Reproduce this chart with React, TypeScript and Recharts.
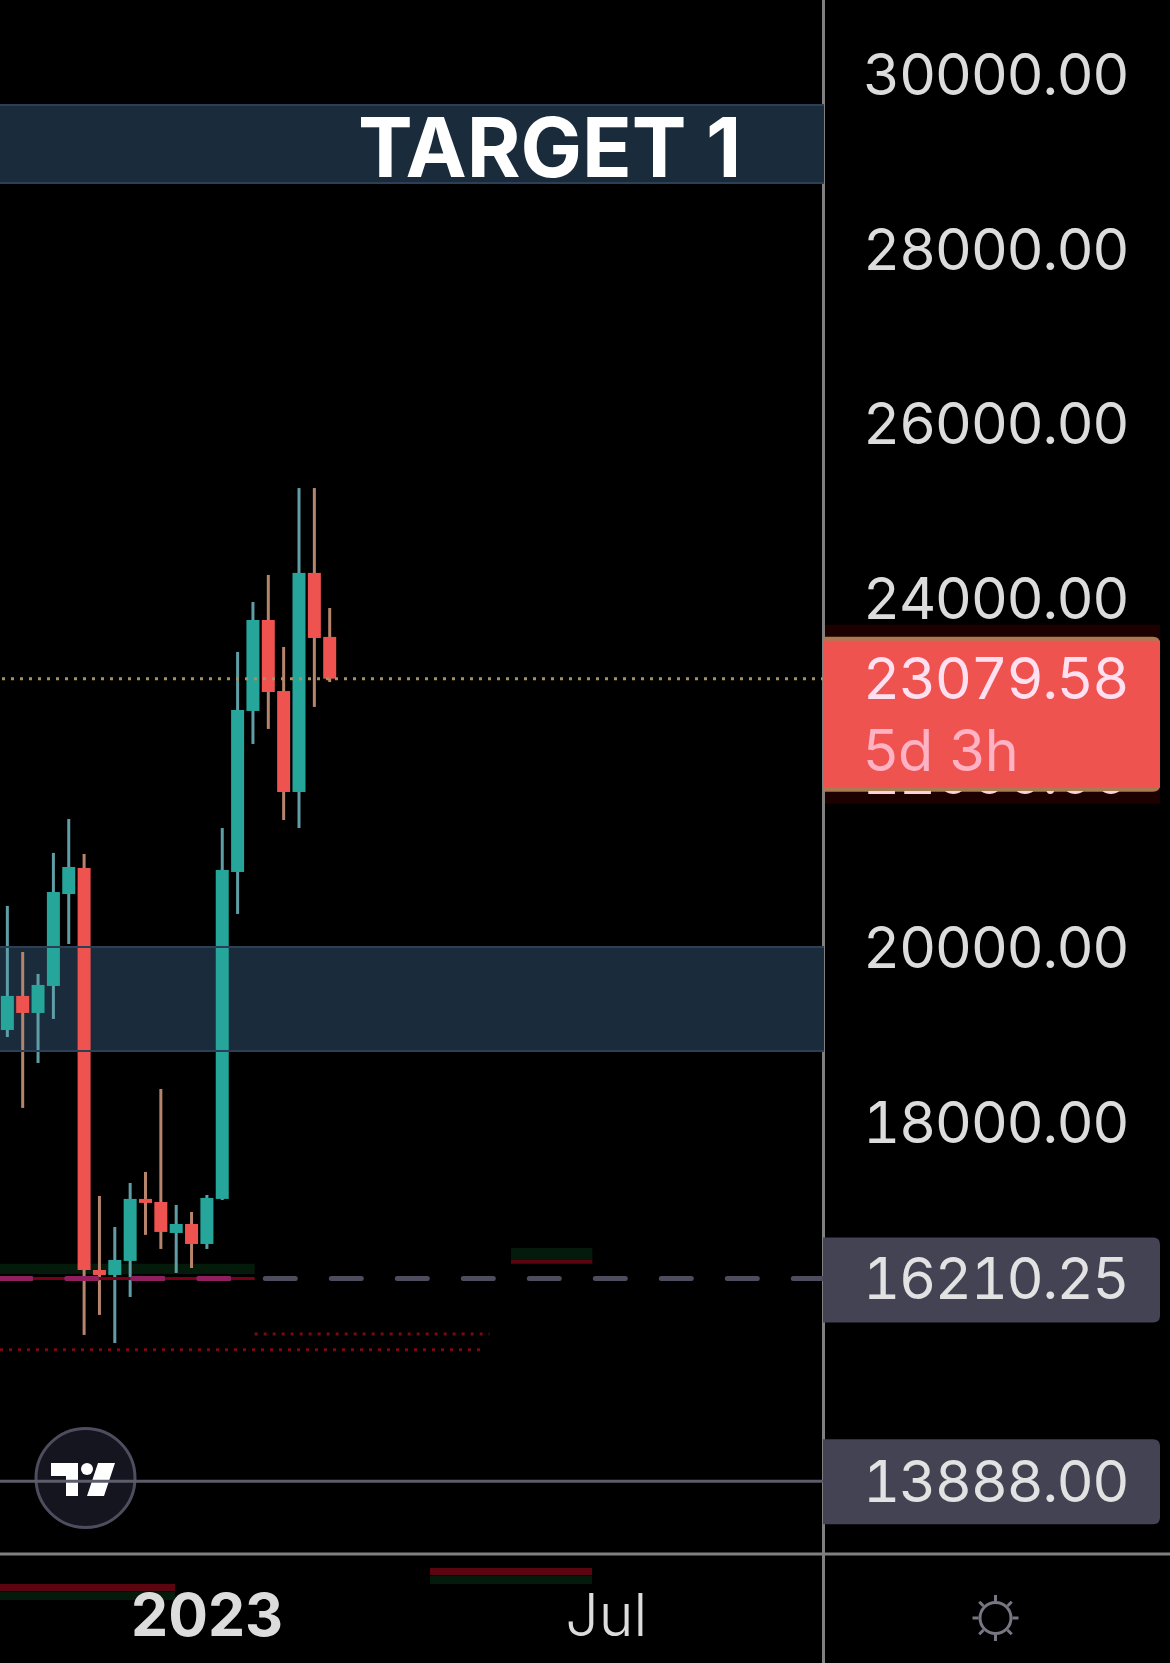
import { Bar, ComposedChart, ReferenceArea, ReferenceLine, XAxis, YAxis } from 'recharts'

const opens = [19056, 19446, 19251, 19560, 20613, 20912, 16307, 16250, 16411, 17121, 17086, 16731, 16834, 16605, 17121, 20866, 22710, 23752, 22938, 21782, 24291, 23558]
const highs = [20477, 19949, 19698, 21084, 21472, 21072, 17155, 16799, 17304, 17430, 18380, 17052, 16972, 17166, 21369, 23386, 23958, 24268, 23443, 25263, 25263, 23889]
const lows = [18975, 18163, 18678, 19182, 20041, 15563, 15792, 15471, 15998, 16709, 16548, 16273, 16330, 16548, 17109, 20385, 22332, 22504, 21461, 21369, 22756, 23041]
const closes = [19446, 19251, 19572, 20636, 20923, 16307, 16250, 16422, 17121, 17075, 16743, 16834, 16605, 17132, 20889, 22721, 23752, 22927, 21782, 24291, 23546, 23079.58]

const priceTicks = [30000, 28000, 26000, 24000, 22000, 20000, 18000]
const timeTicks = [13, 39]
const timeLabels: Record<number, string> = { 13: '2023', 39: 'Jul' }

const lastPrice = 23079.58
const dashedPrice = 16210.25
const linePrice = 13888

const candles = opens.map((open, index) => ({
  index,
  open,
  high: highs[index],
  low: lows[index],
  close: closes[index],
}))

const FONT = 'Inter, Roboto, sans-serif'
const PRICE_SIZE = 57.5
const PRICE_STYLE = { fontVariantNumeric: 'tabular-nums', letterSpacing: '-1.4px' }
const UP = '#26a69a'
const DOWN = '#ef5350'
const ZONE = '#1a2b3c'
const ZONE_EDGE = '#2b4056'
const GHOST_GREEN = '#041a0a'
const GHOST_RED = '#5a0510'

function Candle(props: any) {
  const { x, y, width, height, payload } = props
  const { open, close, high, low } = payload
  const up = close >= open
  const perUnit = height / (high - low)
  const top = y + (high - Math.max(open, close)) * perUnit
  const bodyH = Math.max(Math.abs(open - close) * perUnit, 4)
  const mid = x + width / 2
  return (
    <g>
      <rect x={mid - 1.5} y={y} width={3} height={height} fill={up ? '#5f9ea6' : '#b5846a'} />
      <rect x={x} y={top} width={width} height={bodyH} fill={up ? UP : DOWN} />
    </g>
  )
}

function PriceTag({ viewBox, text, sub, fill, up, down }: any) {
  const y = viewBox.y
  const h = up + down
  return (
    <g>
      {sub && <rect x={825} y={y - up - 12} width={335} height={h + 24} fill="#1d0000" />}
      <path
        d={`M823 ${y - up} H1153 Q1160 ${y - up} 1160 ${y - up + 7} V${y + down - 7} Q1160 ${y + down} 1153 ${y + down} H823 Z`}
        fill={sub ? '#aa7a52' : fill}
      />
      {sub && <rect x={823} y={y - up + 4} width={337} height={h - 8} fill={fill} />}
      <text
        x={863}
        y={y}
        dy="0.36em"
        fontFamily={FONT}
        fontSize={PRICE_SIZE}
        fill={sub ? '#ffe0f0' : '#e2e2e2'}
        style={PRICE_STYLE}
      >
        {text}
      </text>
      {sub && (
        <text x={863} y={y + 72} dy="0.36em" fontFamily={FONT} fontSize={PRICE_SIZE} fill="#ffb2c4">
          {sub}
        </text>
      )}
    </g>
  )
}

function PriceTick({ x, y, payload }: any) {
  // the 22000 label sits behind the last price tag, only its bottom edge shows
  const hidden = payload.value === 22000
  return (
    <g>
      {hidden && (
        <clipPath id="under-tag">
          <rect x={824} y={791} width={346} height={20} />
        </clipPath>
      )}
      <text
        x={x}
        y={y}
        dy="0.36em"
        fontFamily={FONT}
        fontSize={PRICE_SIZE}
        fill={hidden ? '#ffd0dc' : '#dcdcdc'}
        clipPath={hidden ? 'url(#under-tag)' : undefined}
        style={PRICE_STYLE}
      >
        {payload.value.toFixed(2)}
      </text>
    </g>
  )
}

function TimeTick({ x, y, payload }: any) {
  const bold = payload.value === 13
  return (
    <text
      x={x}
      y={y + 53}
      dy="0.36em"
      textAnchor="middle"
      fontFamily={FONT}
      fontSize={59}
      fontWeight={bold ? 700 : 300}
      fill="#dcdcdc"
    >
      {timeLabels[payload.value]}
    </text>
  )
}

const sunRays = [0, 45, 90, 135, 180, 225, 270, 315]

export default function App() {
  return (
    <div style={{ position: 'absolute', left: 0, top: 0, width: 1170, height: 1663, background: '#000', overflow: 'hidden' }}>
      <ComposedChart width={1170} height={1663} data={candles} margin={{ top: 0, right: 0, bottom: 0, left: 0 }}>
        <XAxis
          dataKey="index"
          type="number"
          domain={[-0.49, 53.19]}
          allowDataOverflow
          ticks={timeTicks}
          tick={<TimeTick />}
          tickLine={false}
          axisLine={false}
          height={109}
        />
        <YAxis
          orientation="right"
          type="number"
          domain={[13054, 30853]}
          allowDataOverflow
          ticks={priceTicks}
          tick={<PriceTick />}
          tickMargin={33}
          tickLine={false}
          axisLine={false}
          width={346}
        />

        <ReferenceArea
          y1={29650}
          y2={28757}
          fill={ZONE}
          fillOpacity={1}
          stroke="none"
          label={{ value: 'TARGET 1', position: 'insideLeft', offset: 358, dy: 4, fill: '#fff', fontSize: 82, fontWeight: 700, fontFamily: FONT }}
        />
        <ReferenceLine y={29650} stroke={ZONE_EDGE} strokeWidth={2} />
        <ReferenceLine y={28757} stroke={ZONE_EDGE} strokeWidth={2} />
        <ReferenceArea y1={20007} y2={18816} fill={ZONE} fillOpacity={1} stroke="none" />
        <ReferenceLine y={20007} stroke={ZONE_EDGE} strokeWidth={2} />
        <ReferenceLine y={18816} stroke={ZONE_EDGE} strokeWidth={2} />

        <ReferenceArea x1={-0.49} x2={16.1} y1={16377} y2={16262} fill={GHOST_GREEN} fillOpacity={1} stroke="none" />
        <ReferenceArea x1={32.8} x2={38.1} y1={16560} y2={16422} fill={GHOST_GREEN} fillOpacity={1} stroke="none" />
        <ReferenceArea x1={32.8} x2={38.1} y1={16422} y2={16377} fill={GHOST_RED} fillOpacity={1} stroke="none" />

        <ReferenceLine segment={[{ x: 16.1, y: 15575 }, { x: 31.4, y: 15575 }]} stroke="#7a0a10" strokeWidth={3} strokeDasharray="3 6" />
        <ReferenceLine segment={[{ x: -0.49, y: 15392 }, { x: 30.8, y: 15392 }]} stroke="#7a0a10" strokeWidth={3} strokeDasharray="3 6" />

        <ReferenceLine
          y={dashedPrice}
          stroke="#4d4d5e"
          strokeWidth={5}
          strokeLinecap="round"
          strokeDasharray="30 36"
          strokeDashoffset={-0.7}
          label={(p: any) => <PriceTag {...p} text="16210.25" fill="#434354" up={41} down={44} />}
        />
        <ReferenceLine
          segment={[{ x: -0.49, y: dashedPrice }, { x: 16.1, y: dashedPrice }]}
          stroke="#7a0018"
          strokeWidth={3}
        />
        <ReferenceLine
          segment={[{ x: -0.49, y: dashedPrice }, { x: 16.1, y: dashedPrice }]}
          stroke="#8f1f5f"
          strokeWidth={5}
          strokeLinecap="round"
          strokeDasharray="30 36"
          strokeDashoffset={-0.7}
        />
        <ReferenceLine
          y={linePrice}
          stroke="#5c5c6b"
          strokeWidth={3}
          label={(p: any) => <PriceTag {...p} text="13888.00" fill="#434354" up={42} down={43} />}
        />

        <ReferenceLine y={lastPrice} stroke="#a6915f" strokeWidth={3} strokeDasharray="3 6" />

        <Bar dataKey={(d: any) => [d.low, d.high]} barSize={13} shape={<Candle />} isAnimationActive={false} />

        <ReferenceLine
          y={lastPrice}
          stroke="none"
          label={(p: any) => <PriceTag {...p} text="23079.58" sub="5d 3h" fill="#ef5350" up={42} down={113} />}
        />

        <rect x={0} y={1584} width={175} height={7} fill={GHOST_RED} />
        <rect x={0} y={1592} width={175} height={8} fill={GHOST_GREEN} />
        <rect x={430} y={1568} width={162} height={7} fill={GHOST_RED} />
        <rect x={430} y={1576} width={162} height={8} fill={GHOST_GREEN} />

        <line x1={823.5} y1={0} x2={823.5} y2={1663} stroke="#808080" strokeWidth={3} />
        <line x1={0} y1={1554} x2={1170} y2={1554} stroke="#808080" strokeWidth={3} />

        <circle cx={85.5} cy={1478} r={49.5} fill="#15151f" stroke="#4d4d5e" strokeWidth={3} />
        <path d="M51 1463 H78 V1496 H66 V1476 H51 Z" fill="#fff" />
        <circle cx={87} cy={1469} r={6} fill="#fff" />
        <path d="M98 1463 H115 L104 1496 H87 Z" fill="#fff" />

        <circle cx={995.5} cy={1618} r={15.5} fill="none" stroke="#777784" strokeWidth={3} />
        {sunRays.map((a) => (
          <line
            key={a}
            x1={995.5 + 17 * Math.cos((a * Math.PI) / 180)}
            y1={1618 + 17 * Math.sin((a * Math.PI) / 180)}
            x2={995.5 + 23 * Math.cos((a * Math.PI) / 180)}
            y2={1618 + 23 * Math.sin((a * Math.PI) / 180)}
            stroke="#777784"
            strokeWidth={3}
          />
        ))}
      </ComposedChart>
    </div>
  )
}
